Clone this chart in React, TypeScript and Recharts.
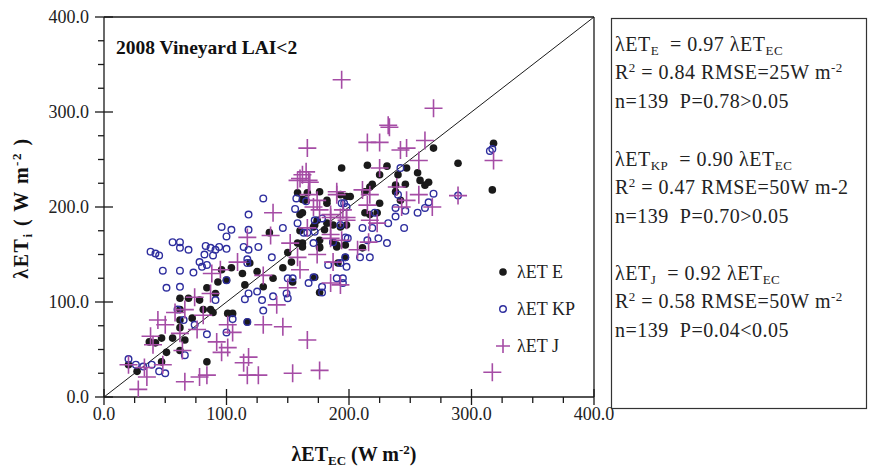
import React from "react";
import { ScatterChart, Scatter, XAxis, YAxis, ReferenceLine, Legend } from "recharts";

// λET_EC (x) vs modelled λET (y), W m-2
const ETE: [number, number][] = [
  [20, 34], [27, 27], [37, 58], [42, 57], [47, 62], [51, 47], [47, 37], [56, 62], [62, 73], [62, 81],
  [66, 60], [62, 49], [62, 104], [69, 104], [62, 92], [72, 83], [78, 102], [81, 92], [87, 92], [84, 115],
  [91, 109], [89, 89], [93, 121], [96, 134], [100, 123], [104, 136], [101, 88], [105, 88], [113, 130], [115, 118],
  [117, 79], [119, 141], [125, 132], [130, 116], [138, 125], [135, 173], [146, 136], [150, 152], [153, 142], [154, 121],
  [160, 175], [176, 157], [176, 110], [172, 126], [187, 163], [191, 141], [197, 147], [84, 37],
  [318, 267], [317, 218], [289, 246], [269, 262], [265, 226], [262, 223], [258, 228], [256, 236], [247, 241], [231, 243],
  [215, 244], [194, 241], [225, 234], [219, 224], [238, 223], [246, 224], [238, 216], [240, 234], [217, 221], [213, 216],
  [201, 211], [193, 213], [225, 204], [242, 207], [182, 207], [176, 216], [166, 215], [164, 207], [162, 194], [213, 194],
  [217, 192], [223, 194], [211, 157], [197, 160], [190, 158], [180, 176], [171, 179], [182, 183], [174, 186], [176, 165],
  [162, 162], [158, 215], [162, 208], [160, 192], [182, 204], [198, 211], [158, 162], [162, 158], [176, 158], [187, 181],
  [193, 179], [190, 160], [198, 181], [172, 181],
];

const ETKP: [number, number][] = [
  [20, 40], [26, 34], [32, 32], [39, 34], [45, 27], [50, 25], [38, 153], [42, 151], [45, 149], [48, 133],
  [51, 115], [56, 163], [62, 163], [62, 157], [69, 155], [62, 133], [62, 116], [73, 131], [60, 92], [65, 81],
  [66, 44], [74, 76], [78, 142], [80, 137], [84, 139], [82, 150], [83, 159], [87, 157], [91, 155], [89, 149],
  [94, 158], [100, 156], [100, 123], [91, 102], [84, 66], [100, 68], [105, 82], [114, 158], [118, 155], [126, 158],
  [117, 145], [117, 141], [117, 79], [115, 103], [118, 109], [125, 111], [129, 102], [130, 91], [138, 106], [137, 147],
  [149, 109], [150, 104], [150, 125], [154, 125], [167, 120], [171, 126], [178, 116], [178, 110], [183, 139], [190, 125],
  [195, 120], [195, 125], [193, 141], [198, 137], [171, 162],
  [130, 209], [118, 192], [118, 176], [96, 179], [100, 169], [104, 176], [146, 178], [157, 209], [156, 198], [158, 183],
  [165, 206], [163, 173], [172, 186], [178, 188], [187, 163], [194, 204], [198, 200], [193, 181], [197, 168],
  [317, 261], [315, 259], [242, 241], [240, 213], [269, 214], [265, 205], [262, 199], [256, 194], [246, 196], [238, 199],
  [238, 190], [232, 183], [245, 178], [221, 194], [219, 178], [211, 178], [224, 167], [231, 162], [215, 165], [199, 167],
  [196, 204], [289, 212], [166, 173], [172, 174], [209, 147], [217, 147], [197, 147],
];

const ETJ: [number, number][] = [
  [28, 8], [20, 34], [33, 31], [35, 21], [38, 64], [40, 55], [44, 81], [50, 76], [48, 34], [62, 67],
  [64, 49], [58, 89], [66, 92], [66, 16], [74, 105], [76, 71], [81, 86], [84, 23], [78, 21], [87, 109],
  [88, 130], [92, 58], [96, 47], [101, 52], [101, 76], [105, 68], [109, 142], [114, 36], [118, 42], [117, 23],
  [126, 23], [130, 128], [130, 76], [141, 97], [146, 74], [152, 162], [154, 25], [166, 60], [176, 28], [158, 147],
  [160, 134], [174, 150], [185, 120], [193, 118], [187, 142], [150, 115], [95, 134], [117, 168], [136, 170],
  [166, 262], [160, 230], [165, 237], [158, 228], [168, 226], [138, 194], [190, 216], [174, 207], [176, 197], [185, 192],
  [195, 197], [198, 189], [166, 178], [185, 171],
  [194, 334], [269, 304], [232, 286], [233, 284], [215, 268], [225, 268], [242, 260], [247, 262], [262, 270], [257, 249],
  [225, 241], [162, 234], [167, 228], [318, 249], [289, 212], [268, 200], [257, 213], [239, 221], [247, 207], [243, 200],
  [217, 213], [215, 202], [211, 218], [190, 213], [217, 186], [223, 183], [198, 186], [193, 189], [194, 165], [185, 167],
  [216, 163], [207, 155], [167, 213], [171, 200], [185, 189], [317, 26],
];

const X_TICKS = [0, 25, 50, 75, 100, 125, 150, 175, 200, 225, 250, 275, 300, 325, 350, 375, 400];
const Y_TICKS = [0, 25, 50, 75, 100, 125, 150, 175, 200, 225, 250, 275, 300, 325, 350, 375, 400];

const toPts = (arr: [number, number][]) => arr.map(([x, y]) => ({ x, y }));

const INK = "#1a1a1a";
const BLUE = "#2e2e9e";
const PINK = "#a54ca5";
const SERIF = "'Liberation Serif', 'Times New Roman', serif";
const NB = "\u00a0";

const XTick = (props: any) => {
  const { x, y, payload } = props;
  const major = payload.value % 100 === 0;
  return (
    <g>
      <line x1={x} x2={x} y1={major ? y - 8 : y} y2={y + (major ? 8 : 6)} stroke={INK} strokeWidth={1.3} />
      {major && (
        <text x={x} y={y + 23} textAnchor="middle" fontFamily={SERIF} fontSize={18} fill="#222">
          {payload.value.toFixed(1)}
        </text>
      )}
    </g>
  );
};

const YTick = (props: any) => {
  const { x, y, payload } = props;
  const major = payload.value % 100 === 0;
  return (
    <g>
      <line x1={x - (major ? 9 : 6)} x2={major ? x + 9 : x} y1={y} y2={y} stroke={INK} strokeWidth={1.3} />
      {major && (
        <text x={x - 15} y={y} dy="0.35em" textAnchor="end" fontFamily={SERIF} fontSize={18} fill="#222">
          {payload.value.toFixed(1)}
        </text>
      )}
    </g>
  );
};

const Dot = (p: any) => <circle cx={p.cx} cy={p.cy} r={3.8} fill={INK} />;
const Ring = (p: any) => <circle cx={p.cx} cy={p.cy} r={3.3} fill="none" stroke={BLUE} strokeWidth={1.4} />;
const Plus = (p: any) => (
  <path d={`M${p.cx - 9},${p.cy}H${p.cx + 9}M${p.cx},${p.cy - 9}V${p.cy + 9}`} stroke={PINK} strokeWidth={1.6} />
);

const LegendBox = () => {
  const rows = [
    { label: "λET E", mark: <circle cx={8} cy={0} r={3.8} fill={INK} /> },
    { label: "λET KP", mark: <circle cx={8} cy={0} r={3.3} fill="none" stroke={BLUE} strokeWidth={1.4} /> },
    { label: "λET J", mark: <path d="M1,0H15M8,-7V7" stroke={PINK} strokeWidth={1.6} /> },
  ];
  return (
    <svg width={110} height={100}>
      {rows.map((r, i) => (
        <g key={i} transform={`translate(0,${14 + i * 37})`}>
          {r.mark}
          <text x={22} y={0} dy="0.35em" fontFamily={SERIF} fontSize={18} fill="#222">
            {r.label}
          </text>
        </g>
      ))}
    </svg>
  );
};

const Sub = ({ children }: { children: React.ReactNode }) => (
  <tspan fontSize={13} dy={4}>{children}</tspan>
);

const StatsBox = () => {
  const fs = 20;
  const x = 615;
  const blocks = [
    { name: "E", slope: "0.97", r2: "0.84", rmse: "25W m", tail: "-2", p: "0.78>0.05", base: 51 },
    { name: "KP", slope: "0.90", r2: "0.47", rmse: "50W m-2", tail: "", p: "0.70>0.05", base: 166 },
    { name: "J", slope: "0.92", r2: "0.58", rmse: "50W m", tail: "-2", p: "0.04<0.05", base: 280 },
  ];
  return (
    <g fontFamily={SERIF} fill="#222" letterSpacing={0.5}>
      <rect x={611.5} y={18.5} width={255} height={390} fill="none" stroke="#333" strokeWidth={1.2} />
      {blocks.map((b) => (
        <g key={b.name}>
          <text x={x} y={b.base} fontSize={fs}>
            λET<Sub>{b.name}</Sub>
            <tspan dy={-4}>{`${NB}${NB}= ${b.slope} λET`}</tspan>
            <Sub>EC</Sub>
          </text>
          <text x={x} y={b.base + 28} fontSize={fs}>
            R<tspan fontSize={13} dy={-7}>2</tspan>
            <tspan dy={7}>{` = ${b.r2} RMSE=${b.rmse}`}</tspan>
            {b.tail && <tspan fontSize={13} dy={-7}>{b.tail}</tspan>}
          </text>
          <text x={x} y={b.base + 57} fontSize={fs}>
            {`n=139${NB}${NB}P=${b.p}`}
          </text>
        </g>
      ))}
    </g>
  );
};

export default function App() {
  return (
    <div style={{ position: "fixed", left: 0, top: 0, width: 870, height: 468, background: "#fff" }}>
      <ScatterChart width={870} height={468} margin={{ top: 17, right: 276, bottom: 31, left: 44 }}>
        <XAxis
          type="number"
          dataKey="x"
          domain={[0, 400]}
          ticks={X_TICKS}
          interval={0}
          height={40}
          tickSize={0}
          tickMargin={0}
          tick={<XTick />}
          axisLine={{ stroke: INK, strokeWidth: 1.3 }}
          allowDataOverflow
        />
        <YAxis
          type="number"
          dataKey="y"
          domain={[0, 400]}
          ticks={Y_TICKS}
          interval={0}
          width={60}
          tickSize={0}
          tickMargin={0}
          tick={<YTick />}
          axisLine={{ stroke: INK, strokeWidth: 1.3 }}
          allowDataOverflow
        />
        <ReferenceLine y={400} stroke={INK} strokeWidth={1.3} />
        <ReferenceLine x={400} stroke={INK} strokeWidth={1.3} />
        <ReferenceLine segment={[{ x: 0, y: 0 }, { x: 400, y: 400 }]} stroke={INK} strokeWidth={1} />
        <Scatter name="λETE" data={toPts(ETE)} shape={Dot} isAnimationActive={false} />
        <Scatter name="λETKP" data={toPts(ETKP)} shape={Ring} isAnimationActive={false} />
        <Scatter name="λETJ" data={toPts(ETJ)} shape={Plus} isAnimationActive={false} />
        <Legend
          layout="vertical"
          align="center"
          verticalAlign="middle"
          content={<LegendBox />}
          wrapperStyle={{ left: 495, top: 258, width: 110, height: 100 }}
        />
      </ScatterChart>
      <svg
        width={870}
        height={468}
        style={{ position: "absolute", left: 0, top: 0, pointerEvents: "none" }}
      >
        <text x={116} y={54} fontFamily={SERIF} fontSize={19.5} fontWeight="bold" fill="#111">
          2008 Vineyard LAI&lt;2
        </text>
        <text x={354} y={461} textAnchor="middle" fontFamily={SERIF} fontSize={20} fontWeight="bold" fill="#111">
          λET<tspan fontSize={13} dy={4}>EC</tspan>
          <tspan dy={-4}>{" (W m"}</tspan>
          <tspan fontSize={13} dy={-7}>-2</tspan>
          <tspan dy={7}>)</tspan>
        </text>
        <text
          transform="translate(28,208) rotate(-90)"
          textAnchor="middle"
          fontFamily={SERIF}
          fontSize={20}
          fontWeight="bold"
          letterSpacing={1.5}
          fill="#111"
        >
          λET<tspan fontSize={13} dy={4}>i</tspan>
          <tspan dy={-4}>{` ( W m`}</tspan>
          <tspan fontSize={13} dy={-7}>-2</tspan>
          <tspan dy={7}>{" )"}</tspan>
        </text>
        <StatsBox />
      </svg>
    </div>
  );
}
